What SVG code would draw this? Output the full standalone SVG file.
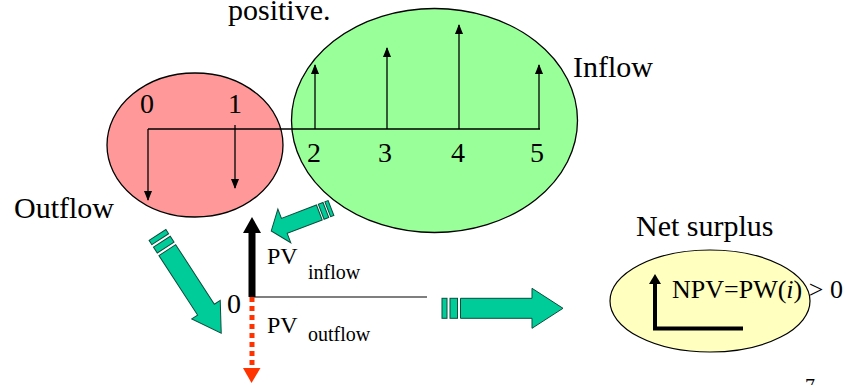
<svg xmlns="http://www.w3.org/2000/svg" width="851" height="385" viewBox="0 0 851 385">
<defs>
<style>
.t{font-family:"Liberation Serif","Times New Roman",serif;fill:#000}
.ln{stroke:#000;stroke-width:1.3;fill:none}
.ga{fill:#00CC99;stroke:#0B4D3B;stroke-width:1}
</style>
<marker id="ah" markerUnits="userSpaceOnUse" markerWidth="10" markerHeight="8" refX="9" refY="4" orient="auto">
<path d="M0,0 L10,4 L0,8 Z" fill="#000"/>
</marker>
</defs>
<rect width="851" height="385" fill="#fff"/>

<text class="t" x="228" y="20" font-size="30">positive.</text>

<g id="outflow-node">
<ellipse cx="195" cy="145" rx="88" ry="72" fill="#FF9999" stroke="#000" stroke-width="1.3"/>
</g>
<g id="inflow-node">
<ellipse cx="434.5" cy="120.5" rx="143" ry="112" fill="#99FF99" stroke="#000" stroke-width="1.3"/>
</g>

<g id="timeline">
<line class="ln" x1="148" y1="129" x2="540" y2="129"/>
<line class="ln" x1="148" y1="129" x2="148" y2="200" marker-end="url(#ah)"/>
<line class="ln" x1="235" y1="125" x2="235" y2="188" marker-end="url(#ah)"/>
<line class="ln" x1="315" y1="129" x2="315" y2="65" marker-end="url(#ah)"/>
<line class="ln" x1="387" y1="129" x2="387" y2="48" marker-end="url(#ah)"/>
<line class="ln" x1="459" y1="129" x2="459" y2="25" marker-end="url(#ah)"/>
<line class="ln" x1="539" y1="129" x2="539" y2="65" marker-end="url(#ah)"/>
<g class="t" font-size="28" text-anchor="middle">
<text x="147" y="113">0</text>
<text x="235" y="113">1</text>
<text x="314" y="162">2</text>
<text x="385" y="162">3</text>
<text x="458" y="162">4</text>
<text x="537" y="162">5</text>
</g>
</g>

<text class="t" x="573" y="77" font-size="30">Inflow</text>
<text class="t" x="14" y="218" font-size="30">Outflow</text>

<g id="pv-node">
<line x1="252" y1="297" x2="427" y2="297" stroke="#000" stroke-width="1.2"/>
<line x1="252" y1="297" x2="252" y2="231" stroke="#000" stroke-width="7"/>
<polygon points="243,233 261,233 252,217" fill="#000"/>
<line x1="252" y1="297" x2="252" y2="368" stroke="#FF3300" stroke-width="5" stroke-dasharray="5 4"/>
<polygon points="243,368 260.5,368 251.5,383" fill="#FF3300"/>
<text class="t" x="234" y="313" font-size="28" text-anchor="middle">0</text>
<text class="t" x="267" y="264" font-size="24">PV</text>
<text class="t" x="308" y="279" font-size="20">inflow</text>
<text class="t" x="267" y="333" font-size="24">PV</text>
<text class="t" x="308" y="341" font-size="20">outflow</text>
</g>

<g id="connectors">
<g transform="translate(331,208) rotate(159)">
<rect class="ga" x="0" y="-8" width="3.5" height="16"/>
<rect class="ga" x="5.5" y="-8" width="5" height="16"/>
<path class="ga" d="M12.5,-8 H50 V-18 L64,0 L50,18 V8 H12.5 Z"/>
</g>
<g transform="translate(157.5,235) rotate(57)">
<rect class="ga" x="0" y="-10" width="5" height="20"/>
<rect class="ga" x="8" y="-10" width="7" height="20"/>
<path class="ga" d="M18,-10 H89 V-17 L117,0 L89,17 V10 H18 Z"/>
</g>
<g transform="translate(442,308.3)">
<rect class="ga" x="0" y="-10" width="5" height="20"/>
<rect class="ga" x="8" y="-10" width="7.5" height="20"/>
<path class="ga" d="M18.5,-10 H90 V-20 L121,0 L90,20 V10 H18.5 Z"/>
</g>
</g>

<text class="t" x="636" y="236" font-size="30">Net surplus</text>

<g id="npv-node">
<ellipse cx="710" cy="301" rx="100" ry="51" fill="#FFFFC0" stroke="#000" stroke-width="1.2"/>
<polyline points="655,283 655,328.5 743,328.5" fill="none" stroke="#000" stroke-width="4"/>
<polygon points="649,284 661,284 655,274" fill="#000"/>
<text class="t" x="672" y="298" font-size="26">NPV=PW(<tspan font-style="italic">i</tspan>) &gt; 0</text>
</g>

<text class="t" x="805" y="393" font-size="20">7</text>
</svg>
